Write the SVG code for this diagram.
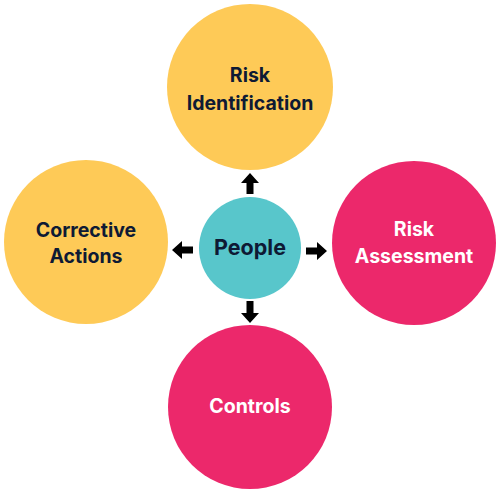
<svg xmlns="http://www.w3.org/2000/svg" width="500" height="500" viewBox="0 0 500 500">
<style>
.y{fill:#FECA57}.p{fill:#EC286B}.t{fill:#58C6CB}
text{font-family:Inter,"Noto Sans","Liberation Sans",sans-serif;font-weight:700;font-size:19.5px;text-anchor:middle}
.d{fill:#0E1A34}.w{fill:#FFFFFF}
.arr{fill:#000000}
</style>
<rect width="500" height="500" fill="#FFFFFF"/>
<g id="risk-identification">
<circle class="y" cx="250" cy="87" r="83"/>
<text class="d" x="250" y="82">Risk</text>
<text class="d" x="250" y="110">Identification</text>
</g>
<g id="corrective-actions">
<circle class="y" cx="86" cy="242" r="82"/>
<text class="d" x="86" y="237">Corrective</text>
<text class="d" x="86" y="263">Actions</text>
</g>
<g id="risk-assessment">
<circle class="p" cx="414" cy="243" r="82"/>
<text class="w" x="414" y="236">Risk</text>
<text class="w" x="414" y="263">Assessment</text>
</g>
<g id="controls">
<circle class="p" cx="250" cy="407" r="82"/>
<text class="w" x="250" y="413">Controls</text>
</g>
<g id="people">
<circle class="t" cx="250" cy="248" r="51"/>
<text class="d" x="250" y="255" style="font-size:21.5px">People</text>
</g>
<g id="connectors" class="arr">
<polygon points="250,173 259,183 253.5,183 253.5,194 246.5,194 246.5,183 241,183"/>
<polygon points="250,323 259,313 253.5,313 253.5,301 246.5,301 246.5,313 241,313"/>
<polygon points="172,250 182,241 182,246.5 193,246.5 193,253.5 182,253.5 182,259"/>
<polygon points="327,251 317,242 317,247.5 306,247.5 306,254.5 317,254.5 317,260"/>
</g>
</svg>
